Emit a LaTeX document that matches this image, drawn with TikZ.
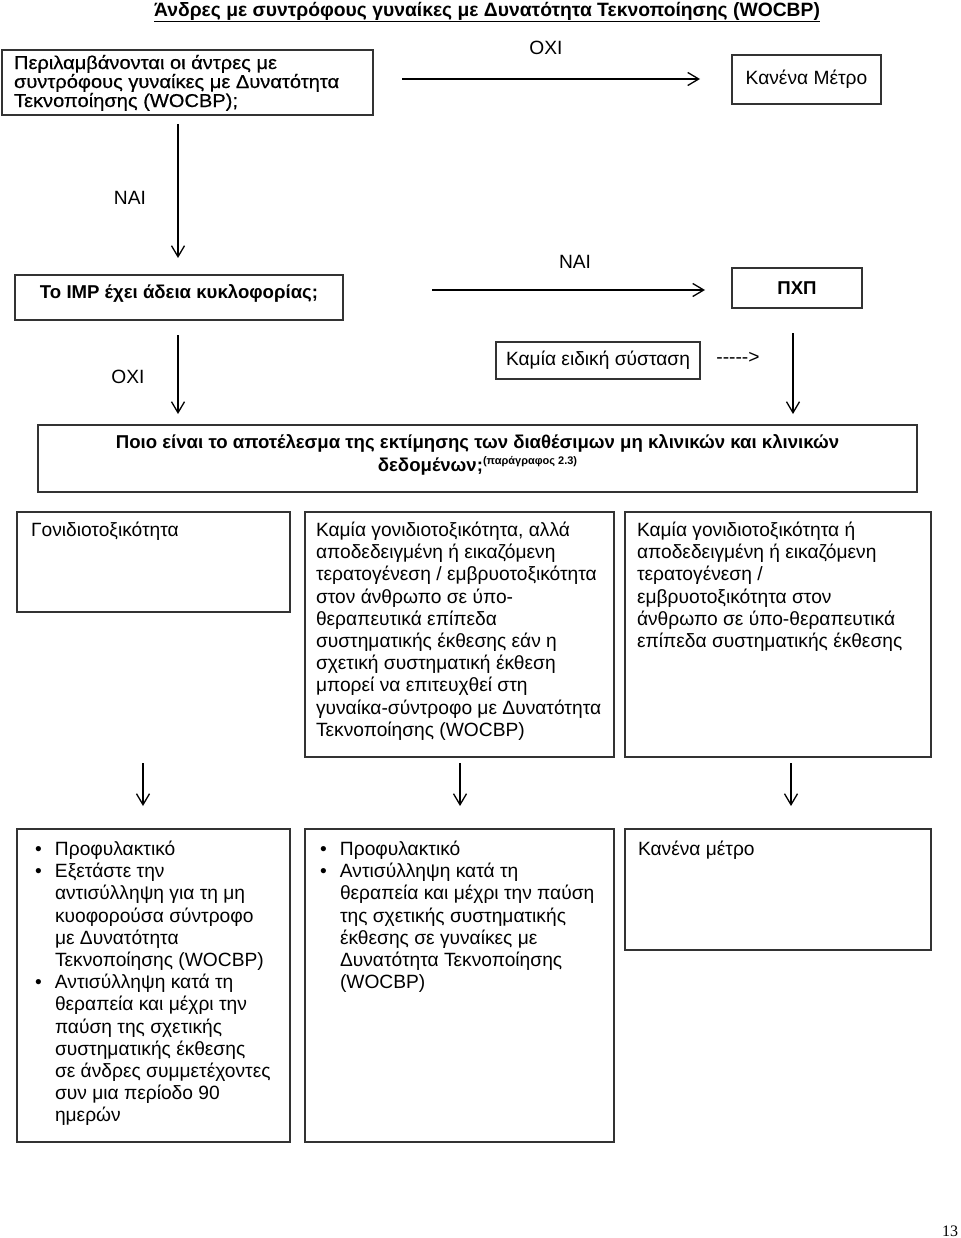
\documentclass[tikz,border=0pt]{standalone}
\usepackage{fontspec}
\setmainfont{Liberation Sans}
\newfontfamily\pnfont{Liberation Serif}
\newfontfamily\widefont[FakeStretch=1.08,FakeBold=0.5]{Liberation Sans}
\usetikzlibrary{arrows.meta}
\newcommand{\tbx}[3]{\parbox[t][#2][t]{#1}{\raggedright #3}}
\newcommand{\bul}{\makebox[22pt][l]{\hspace{2pt}•}}
\newcommand{\ind}{\hspace*{22pt}}
\begin{document}
\begin{tikzpicture}[x=1pt,y=-1pt,
  every node/.style={font=\fontsize{19.2}{22.2}\selectfont, inner sep=0pt, outer sep=0pt},
  bfnt/.style={font=\fontsize{18.6}{22.2}\selectfont\bfseries},
  box/.style={draw=black!80, line width=1.4pt, anchor=north west},
  arr/.style={line width=1.3pt, -{Straight Barb[length=11pt,width=13pt,line width=1.3pt]}}]
\useasboundingbox (0,0) rectangle (960,1238);

% title
\node[font=\fontsize{19.3}{22}\selectfont\bfseries] (title) at (487,12) {\underline{Άνδρες με συντρόφους γυναίκες με Δυνατότητα Τεκνοποίησης (WOCBP)}};

% first question
\node[box, inner xsep=12pt, inner ysep=5pt, font=\widefont\fontsize{18.6}{19}\selectfont] (q1) at (2,50)
  {\tbx{347pt}{55pt}{Περιλαμβάνονται οι άντρες με\\ συντρόφους γυναίκες με Δυνατότητα\\ Τεκνοποίησης (WOCBP);}};
\node[box, minimum width=149pt, minimum height=49pt] (km) at (732,55) {Κανένα Μέτρο};
\node (oxi1) at (546,48) {ΟΧΙ};
\coordinate (a1s) at (402,79); \coordinate (a1e) at (700,79);
\draw[arr] (a1s) -- (a1e);

\node (nai1) at (130,198) {ΝΑΙ};
\coordinate (a2s) at (178,124); \coordinate (a2e) at (178,258);
\draw[arr] (a2s) -- (a2e);

% IMP
\node[box, bfnt, inner xsep=5pt, inner ysep=10pt] (imp) at (15,275)
  {\parbox[t][25pt][t]{318pt}{\centering Το IMP έχει άδεια κυκλοφορίας;}};
\node (nai2) at (575,262) {ΝΑΙ};
\coordinate (a3s) at (432,290); \coordinate (a3e) at (705,290);
\draw[arr] (a3s) -- (a3e);
\node[box, bfnt, minimum width=130pt, minimum height=40pt] (pxp) at (732,268) {ΠΧΠ};

\node (oxi2) at (128,377) {ΟΧΙ};
\coordinate (a4s) at (178,335); \coordinate (a4e) at (178,414);
\draw[arr] (a4s) -- (a4e);
\node[box, minimum width=204pt, minimum height=37pt] (kes) at (496,342) {Καμία ειδική σύσταση};
\node (dash) at (738,358) {-\kern0pt-\kern0pt-\kern0pt-\kern0pt-\kern0pt>};
\coordinate (a5s) at (793,333); \coordinate (a5e) at (793,414);
\draw[arr] (a5s) -- (a5e);

% second question
\node[box, bfnt, inner xsep=10pt, inner ysep=10pt] (q2) at (38,425)
  {\parbox[t][47pt][t]{859pt}{\centering\fontsize{18.6}{23}\selectfont Ποιο είναι το αποτέλεσμα της εκτίμησης των διαθέσιμων μη κλινικών και κλινικών\\ δεδομένων;\raisebox{7pt}{\fontsize{11}{11}\selectfont(παράγραφος 2.3)}}};

% row 1
\node[box, inner xsep=14pt, inner ysep=10pt] (ga) at (17,512)
  {\tbx{245pt}{80pt}{Γονιδιοτοξικότητα}};
\node[box, inner xsep=11pt, inner ysep=10pt] (gb) at (305,512)
  {\tbx{287pt}{225pt}{Καμία γονιδιοτοξικότητα, αλλά\\ αποδεδειγμένη ή εικαζόμενη\\ τερατογένεση / εμβρυοτοξικότητα\\ στον άνθρωπο σε ύπο-\\ θεραπευτικά επίπεδα\\ συστηματικής έκθεσης εάν η\\ σχετική συστηματική έκθεση\\ μπορεί να επιτευχθεί στη\\ γυναίκα-σύντροφο με Δυνατότητα\\ Τεκνοποίησης (WOCBP)}};
\node[box, inner xsep=12pt, inner ysep=10pt] (gc) at (625,512)
  {\tbx{282pt}{225pt}{Καμία γονιδιοτοξικότητα ή\\ αποδεδειγμένη ή εικαζόμενη\\ τερατογένεση /\\ εμβρυοτοξικότητα στον\\ άνθρωπο σε ύπο-θεραπευτικά\\ επίπεδα συστηματικής έκθεσης}};

% arrows to row 2
\coordinate (b1s) at (143,763); \coordinate (b1e) at (143,806);
\coordinate (b2s) at (460,763); \coordinate (b2e) at (460,806);
\coordinate (b3s) at (791,763); \coordinate (b3e) at (791,806);
\draw[arr] (b1s) -- (b1e);
\draw[arr] (b2s) -- (b2e);
\draw[arr] (b3s) -- (b3e);

% row 2
\node[box, inner xsep=16pt, inner ysep=12pt] (ma) at (17,829)
  {\tbx{241pt}{289pt}{\bul Προφυλακτικό\\ \bul Εξετάστε την\\ \ind αντισύλληψη για τη μη\\ \ind κυοφορούσα σύντροφο\\ \ind με Δυνατότητα\\ \ind Τεκνοποίησης (WOCBP)\\ \bul Αντισύλληψη κατά τη\\ \ind θεραπεία και μέχρι την\\ \ind παύση της σχετικής\\ \ind συστηματικής έκθεσης\\ \ind σε άνδρες συμμετέχοντες\\ \ind συν μια περίοδο 90\\ \ind ημερών}};
\node[box, inner xsep=13pt, inner ysep=12pt] (mb) at (305,829)
  {\tbx{283pt}{289pt}{\bul Προφυλακτικό\\ \bul Αντισύλληψη κατά τη\\ \ind θεραπεία και μέχρι την παύση\\ \ind της σχετικής συστηματικής\\ \ind έκθεσης σε γυναίκες με\\ \ind Δυνατότητα Τεκνοποίησης\\ \ind (WOCBP)}};
\node[box, inner xsep=13pt, inner ysep=12pt] (mc) at (625,829)
  {\tbx{280pt}{97pt}{Κανένα μέτρο}};

\node[font=\pnfont\fontsize{16}{16}\selectfont] (pg) at (950,1231) {13};
\end{tikzpicture}
\end{document}
